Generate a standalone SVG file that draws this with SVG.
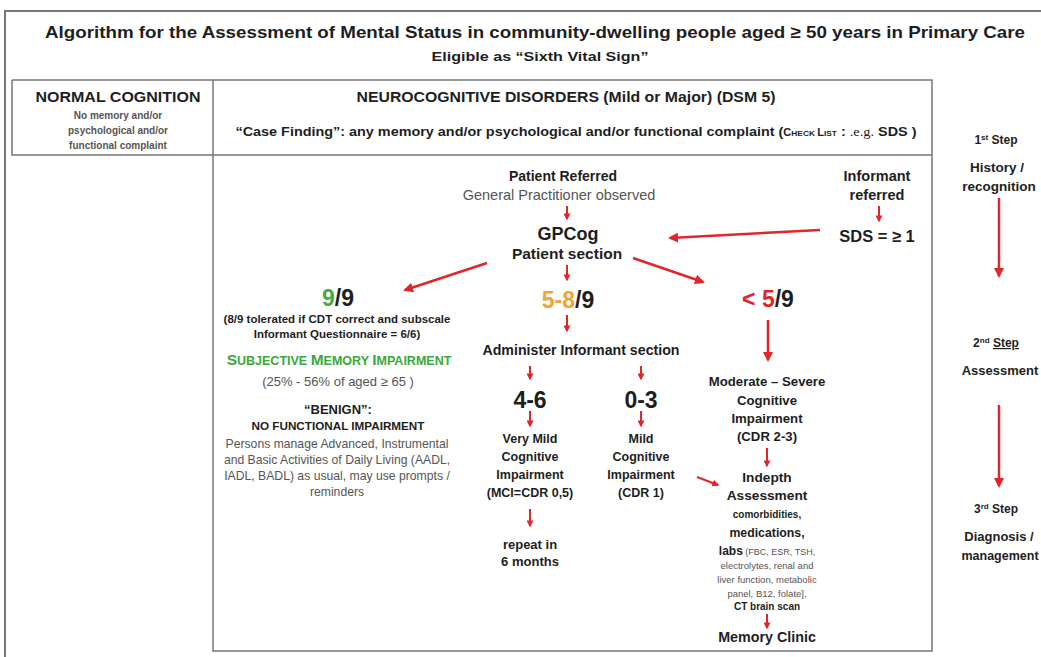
<svg xmlns="http://www.w3.org/2000/svg" width="1041" height="657" viewBox="0 0 1041 657">
<defs>
<style>
text{font-family:"Liberation Sans",Arial,sans-serif;text-anchor:middle;fill:#1e1e1e}
.b{font-weight:bold}
.g{fill:#555}
.frame{fill:none;stroke:#777;stroke-width:2}
.cell{fill:none;stroke:#777;stroke-width:1.5}
.arr{stroke:#e0262a;stroke-width:2.5;fill:none;marker-end:url(#ah)}
.sarr{stroke:#e0262a;stroke-width:2;fill:none;marker-end:url(#sh)}
</style>
<marker id="ah" viewBox="0 0 10 10" refX="8" refY="5" markerWidth="4" markerHeight="4" orient="auto" markerUnits="strokeWidth"><path d="M0,0 L10,5 L0,10 z" fill="#e0262a"/></marker>
<marker id="sh" viewBox="0 0 10 10" refX="8" refY="5" markerWidth="3.5" markerHeight="3.5" orient="auto" markerUnits="strokeWidth"><path d="M0,0 L10,5 L0,10 z" fill="#e0262a"/></marker>
</defs>
<rect width="1041" height="657" fill="#fff"/>
<path class="frame" d="M5,657 V11 H1041"/>
<g id="title">
<text x="535" y="38" class="b" font-size="17" textLength="980" lengthAdjust="spacingAndGlyphs">Algorithm for the Assessment of Mental Status in community-dwelling people aged ≥ 50 years in Primary Care</text>
<text x="540" y="61" class="b" font-size="13" textLength="217" lengthAdjust="spacingAndGlyphs">Eligible as “Sixth Vital Sign”</text>
</g>
<g id="table">
<path class="cell" d="M12,80 H932 V651 H213 V80 M12,80 V155 H932"/>
</g>
<g id="normal">
<text x="118" y="102" class="b" font-size="14" textLength="165" lengthAdjust="spacingAndGlyphs">NORMAL COGNITION</text>
<text x="118" y="119" class="b g" font-size="10">No memory and/or</text>
<text x="118" y="134" class="b g" font-size="10">psychological and/or</text>
<text x="118" y="149" class="b g" font-size="10">functional complaint</text>
</g>
<g id="ncd">
<text x="566" y="102" class="b" font-size="14" textLength="419" lengthAdjust="spacingAndGlyphs">NEUROCOGNITIVE DISORDERS (Mild or Major) (DSM 5)</text>
<text x="576" y="136" class="b" font-size="13" textLength="681" lengthAdjust="spacingAndGlyphs">“Case Finding”: any memory and/or psychological and/or functional complaint (<tspan font-size="10">C</tspan><tspan font-size="7.5">HECK </tspan><tspan font-size="10">L</tspan><tspan font-size="7.5">IST</tspan> : <tspan font-weight="normal" font-family="Liberation Serif,serif">.e.g.</tspan> SDS )</text>
</g>
<g id="steps">
<text x="996" y="144" class="b" font-size="12">1<tspan font-size="8" dy="-4">st</tspan><tspan dy="4"> Step</tspan></text>
<text x="997" y="172" class="b" font-size="13.5">History /</text>
<text x="999" y="191" class="b" font-size="13.5">recognition</text>
<text x="996" y="347" class="b" font-size="12">2<tspan font-size="8" dy="-4">nd</tspan><tspan dy="4"> </tspan><tspan text-decoration="underline">Step</tspan></text>
<text x="1000" y="375" class="b" font-size="13">Assessment</text>
<text x="996" y="513" class="b" font-size="12">3<tspan font-size="8" dy="-4">rd</tspan><tspan dy="4">  Step</tspan></text>
<text x="999" y="541" class="b" font-size="13">Diagnosis /</text>
<text x="1000" y="560" class="b" font-size="12.5">management</text>
</g>
<g id="patient">
<text x="563" y="181" class="b" font-size="14">Patient Referred</text>
<text x="559" y="200" class="g" font-size="14.5">General Practitioner observed</text>
</g>
<g id="gpcog">
<text x="568" y="240" class="b" font-size="18">GPCog</text>
<text x="567" y="259" class="b" font-size="15.5">Patient section</text>
</g>
<g id="informant">
<text x="877" y="181" class="b" font-size="14.5">Informant</text>
<text x="877" y="200" class="b" font-size="14.5">referred</text>
</g>
<g id="sds">
<text x="877" y="242" class="b" font-size="16.5">SDS = ≥ 1</text>
</g>
<g id="r99">
<text x="338" y="306" class="b" font-size="23"><tspan fill="#4aa842">9</tspan>/9</text>
<text x="337" y="323" class="b" font-size="11.5">(8/9 tolerated if CDT correct and subscale</text>
<text x="337" y="338" class="b" font-size="11.5">Informant Questionnaire = 6/6)</text>
</g>
<g id="smi">
<text x="339" y="365" class="b" font-size="15.5" fill="#3aa83a"><tspan fill="#3aa83a">S</tspan><tspan fill="#3aa83a" font-size="12.5">UBJECTIVE </tspan><tspan fill="#3aa83a">M</tspan><tspan fill="#3aa83a" font-size="12.5">EMORY </tspan><tspan fill="#3aa83a">I</tspan><tspan fill="#3aa83a" font-size="12.5">MPAIRMENT</tspan></text>
<text x="338" y="386" class="g" font-size="13">(25% - 56% of aged ≥ 65 )</text>
<text x="338" y="414" class="b" font-size="13">“BENIGN”:</text>
<text x="338" y="430" class="b" font-size="11.7">NO FUNCTIONAL IMPAIRMENT</text>
<text x="337" y="448" class="g" font-size="12.2">Persons manage Advanced, Instrumental</text>
<text x="337" y="464" class="g" font-size="12.2">and Basic Activities of Daily Living (AADL,</text>
<text x="337" y="480" class="g" font-size="12.2">IADL, BADL) as usual, may use prompts /</text>
<text x="337" y="496" class="g" font-size="12.2">reminders</text>
</g>
<g id="r58">
<text x="568" y="308" class="b" font-size="23"><tspan fill="#f0a431">5-8</tspan>/9</text>
</g>
<g id="r5">
<text x="768" y="307" class="b" font-size="23"><tspan fill="#e0262a">&lt; 5</tspan>/9</text>
</g>
<g id="admin">
<text x="581" y="355" class="b" font-size="14.2">Administer Informant section</text>
</g>
<g id="s46">
<text x="530" y="408" class="b" font-size="23">4-6</text>
</g>
<g id="s03">
<text x="641" y="408" class="b" font-size="23">0-3</text>
</g>
<g id="vmci">
<text x="530" y="443" class="b" font-size="12.5">Very Mild</text>
<text x="530" y="461" class="b" font-size="12.5">Cognitive</text>
<text x="530" y="479" class="b" font-size="12.5">Impairment</text>
<text x="530" y="497" class="b" font-size="12.5">(MCI=CDR 0,5)</text>
</g>
<g id="repeat">
<text x="530" y="549" class="b" font-size="13">repeat in</text>
<text x="530" y="566" class="b" font-size="13">6 months</text>
</g>
<g id="mci">
<text x="641" y="443" class="b" font-size="12.5">Mild</text>
<text x="641" y="461" class="b" font-size="12.5">Cognitive</text>
<text x="641" y="479" class="b" font-size="12.5">Impairment</text>
<text x="641" y="497" class="b" font-size="12.5">(CDR 1)</text>
</g>
<g id="modsev">
<text x="767" y="386" class="b" font-size="13.2">Moderate – Severe</text>
<text x="767" y="405" class="b" font-size="13.2">Cognitive</text>
<text x="767" y="423" class="b" font-size="13.2">Impairment</text>
<text x="767" y="441" class="b" font-size="13.2">(CDR 2-3)</text>
</g>
<g id="indepth">
<text x="767" y="482" class="b" font-size="13.7">Indepth</text>
<text x="767" y="500" class="b" font-size="13.7">Assessment</text>
<text x="767" y="518" class="b" font-size="10">comorbidities,</text>
<text x="767" y="537" class="b" font-size="12.3">medications,</text>
<text x="767" y="555" font-size="9" class="g"><tspan font-weight="bold" font-size="12" fill="#1e1e1e">labs</tspan> (FBC, ESR, TSH,</text>
<text x="767" y="569" font-size="9.5" class="g">electrolytes, renal and</text>
<text x="767" y="583" font-size="9.5" class="g">liver function, metabolic</text>
<text x="767" y="597" font-size="9.5" class="g">panel, B12, folate],</text>
<text x="767" y="610" class="b" font-size="10">CT brain scan</text>
</g>
<g id="clinic">
<text x="767" y="642" class="b" font-size="14.3">Memory Clinic</text>
</g>
<g id="connectors">
<path class="sarr" d="M567,206 V219"/>
<path class="sarr" d="M879,206 V221"/>
<path class="arr" d="M820,230 L670,238"/>
<path class="arr" d="M487,263 L405,290"/>
<path class="sarr" d="M567,265 V280"/>
<path class="arr" d="M633,258 L703,282"/>
<path class="sarr" d="M567,315 V331"/>
<path class="arr" d="M768,320 V360"/>
<path class="sarr" d="M530,366 V379"/>
<path class="sarr" d="M641,366 V379"/>
<path class="sarr" d="M530,411 V426"/>
<path class="sarr" d="M641,411 V426"/>
<path class="sarr" d="M530,509 V526"/>
<path class="sarr" d="M697,477 L718,485"/>
<path class="sarr" d="M767,448 V466"/>
<path class="sarr" d="M767,614 V628"/>
<path class="arr" d="M999,198 V276"/>
<path class="arr" d="M999,405 V486"/>
</g>
</svg>
